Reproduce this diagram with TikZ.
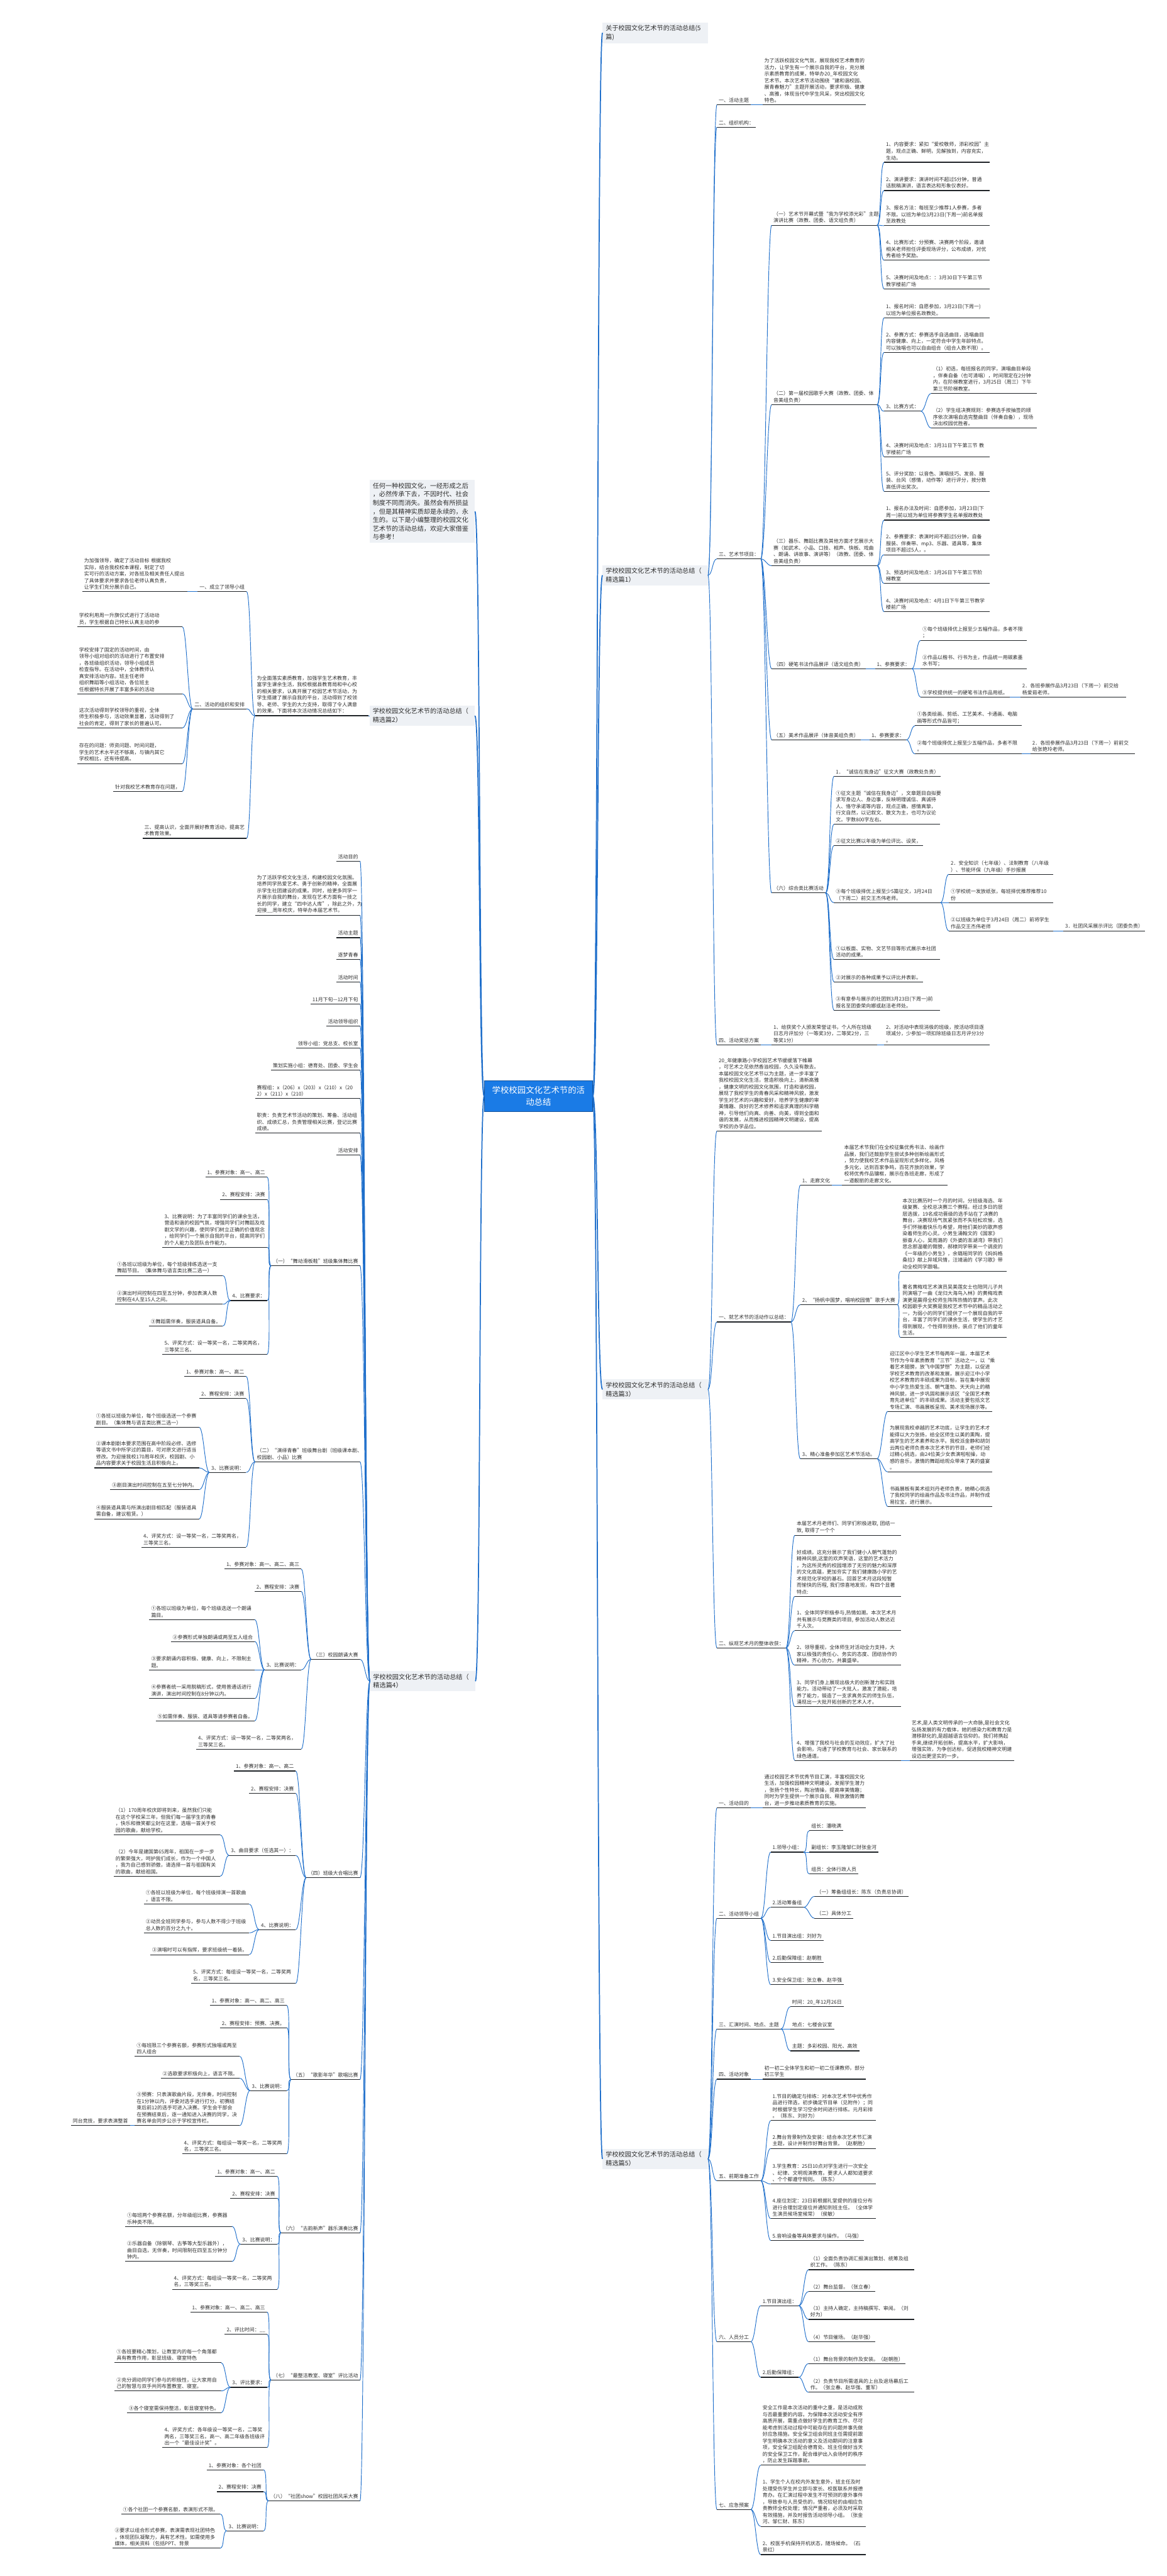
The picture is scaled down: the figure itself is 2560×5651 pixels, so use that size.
\documentclass[tikz,border=0pt]{standalone}
\usepackage{fontspec}
\setmainfont{Noto Sans CJK SC}

\definecolor{linkblue}{HTML}{1F6FCB}
\definecolor{ulblack}{HTML}{1E2226}
\definecolor{txtgray}{HTML}{2E2E2E}
\definecolor{boxgray}{HTML}{EEF1F5}
\definecolor{rootblue}{HTML}{1A7BE6}
\definecolor{rootedge}{HTML}{0E4F9A}

\newcommand{\leaffont}{\fontsize{11}{14.5}\selectfont}
\newcommand{\boxfont}{\fontsize{14}{19}\selectfont}
\newcommand{\rootfont}{\fontsize{18.5}{25}\selectfont}

\tikzset{
  uline/.style={draw=ulblack, line width=1.5pt},
  link/.style={draw=linkblue, line width=1.3pt},
  trunk/.style={draw=linkblue, line width=2.4pt},
  leaf/.style={anchor=south west, align=left, font=\leaffont, text=txtgray,
    inner xsep=4pt, inner ysep=4.5pt,
    append after command={(\tikzlastnode.south west) edge[uline] (\tikzlastnode.south east)}},
  lleaf/.style={leaf, anchor=south east},
  para/.style={text width=#1},
  topbox/.style={fill=boxgray, text=txtgray, font=\boxfont, align=left,
    text width=217pt, inner xsep=7pt, inner ysep=6pt},
  rootbox/.style={fill=rootblue, draw=rootedge, line width=1pt, text=white,
    font=\rootfont, align=center, minimum width=237pt, minimum height=67pt}
}

% 右侧连线 / 左侧连线
\newcommand{\rlinks}[2]{\foreach \kid in {#2}{\draw[link] (#1.south east) .. controls +(10,0) and +(-10,0) .. (\kid.south west);}}
\newcommand{\llinks}[2]{\foreach \kid in {#2}{\draw[link] (#1.south west) .. controls +(-10,0) and +(10,0) .. (\kid.south east);}}

\begin{document}
\begin{tikzpicture}[x=1pt, y=-1pt]
\useasboundingbox (0,0) rectangle (2560,5651);

% 中心主题
\node[rootbox] (root) at (1181.5,2404.5) {学校校园文化艺术节的活\\动总结};

% 一级分支
\node[topbox, anchor=west] (t0) at (1322,72) {关于校园文化艺术节的活动总结(5\\篇)};
\node[topbox, anchor=west] (b1) at (1322,1262) {学校校园文化艺术节的活动总结（\\精选篇1）};
\node[topbox, anchor=west] (b3) at (1322,3048) {学校校园文化艺术节的活动总结（\\精选篇3）};
\node[topbox, anchor=west] (b5) at (1322,4736) {学校校园文化艺术节的活动总结（\\精选篇5）};
\node[topbox, anchor=east, font=\fontsize{14}{18.75}\selectfont] (intro) at (1042,1122) {任何一种校园文化，一经形成之后\\，必然传承下去，不因时代、社会\\制度不同而消失。虽然会有所损益\\，但是其精神实质却是永续的，永\\生的。以下是小编整理的校园文化\\艺术节的活动总结，欢迎大家借鉴\\与参考！};
\node[topbox, anchor=east] (b2) at (1042,1570) {学校校园文化艺术节的活动总结（\\精选篇2）};
\node[topbox, anchor=east] (b4) at (1043,3688) {学校校园文化艺术节的活动总结（\\精选篇4）};

\foreach \kid in {t0,b1,b3,b5}{\draw[trunk] (root.east) .. controls +(12,0) and +(-12,0) .. (\kid.west);}
\foreach \kid in {intro,b2,b4}{\draw[trunk] (root.west) .. controls +(-12,0) and +(12,0) .. (\kid.east);}

% ---------------- 精选篇1 ----------------
\node[leaf] (p1a) at (1573,230) {一、活动主题};
\node[leaf, para=219] (p1a1) at (1673,230) {为了活跃校园文化气氛，展现我校艺术教育的\\活力，让学生有一个展示自我的平台，充分展\\示素质教育的成果，特举办20\_年校园文化\\艺术节。本次艺术节活动围绕“建和谐校园、\\展青春魅力”主题开展活动，要求积极、健康\\、高雅，体现当代中学生风采，突出校园文化\\特色。};
\node[leaf] (p1b) at (1573,279) {二、组织机构：};
\node[leaf] (p1c) at (1573,1226) {三、艺术节项目：};
\node[leaf] (p1d) at (1573,2292) {四、活动奖惩方案};
\node[leaf, para=223] (p1d1) at (1693,2292) {1、给获奖个人颁发荣誉证书，个人所在班级\\日志月评加分（一等奖3分，二等奖2分，三\\等奖1分）};
\node[leaf, para=223] (p1d2) at (1940,2292) {2、对活动中表现消极的班级，按活动项目逐\\项减分，少参加一项扣除班级日志月评分3分\\。};

\node[leaf, para=223] (c1) at (1693,494) {（一）艺术节开幕式暨“我为学校添光彩”主题\\演讲比赛（政教、团委、语文组负责）};
\node[leaf, para=223] (c1x1) at (1940,356) {1、内容要求：紧扣“爱校敬师，添彩校园”主\\题，观点正确、鲜明，见解独到，内容充实，\\生动。};
\node[leaf, para=223] (c1x2) at (1940,418) {2、演讲要求：演讲时间不超过5分钟，普通\\话脱稿演讲，语言表达和形象仪表好。};
\node[leaf, para=223] (c1x3) at (1940,495) {3、报名方法：每班至少推荐1人参赛，多者\\不限。以班为单位3月23日(下周一)前名单报\\至政教处};
\node[leaf, para=223] (c1x4) at (1940,571) {4、比赛形式：分预赛、决赛两个阶段，邀请\\相关老师担任评委现场评分，公布成绩，对优\\秀者给予奖励。};
\node[leaf, para=223] (c1x5) at (1940,634) {5、决赛时间及地点：：3月30日下午第三节\\教学楼前广场};

\node[leaf, para=223] (c2) at (1693,888) {（二）第一届校园歌手大赛（政教、团委、体\\音美组负责）};
\node[leaf, para=223] (c2x1) at (1940,697) {1、报名时间：自愿参加，3月23日(下周一)\\以班为单位报名政教处。};
\node[leaf, para=223] (c2x2) at (1940,773) {2、参赛方式：参赛选手自选曲目，选唱曲目\\内容健康、向上，一定符合中学生年龄特点。\\可以独唱也可以自由组合（组合人数不限）。};
\node[leaf] (c2x3) at (1940,902) {3、比赛方式：};
\node[leaf, para=224] (c2y1) at (2043,863) {（1）初选，每班报名的同学，演唱曲目单段\\，伴奏自备（也可清唱），时间限定在2分钟\\内，在阶梯教室进行，3月25日（周三）下午\\第三节阶梯教室。};
\node[leaf, para=224] (c2y2) at (2043,939) {（2）学生组决赛规则：参赛选手按抽签的顺\\序依次演唱自选完整曲目（伴奏自备），现场\\决出校园优胜者。};
\node[leaf, para=223] (c2x4) at (1940,1002) {4、决赛时间及地点：3月31日下午第三节~教\\学楼前广场};
\node[leaf, para=223] (c2x5) at (1940,1078) {5、评分奖励：以音色、演唱技巧、发音、服\\装、台风（感情，动作等）进行评分，按分数\\高低评出奖次。};

\node[leaf, para=223] (c3) at (1693,1241) {（三）器乐、舞蹈比赛及其他方面才艺展示大\\赛（如武术、小品、口技、相声、快板、戏曲\\、朗诵、讲故事、演讲等）（政教、团委、体\\音美组负责）};
\node[leaf, para=223] (c3x1) at (1940,1141) {1、报名办法及时间：自愿参加，3月23日(下\\周一)前以班为单位将参赛学生名单报政教处};
\node[leaf, para=223] (c3x2) at (1940,1217) {2、参赛要求：表演时间不超过5分钟，自备\\服装、伴奏带、mp3、乐器、道具等，集体\\项目不超过5人，。};
\node[leaf, para=223] (c3x3) at (1940,1280) {3、预选时间及地点：3月26日下午第三节阶\\梯教室};
\node[leaf, para=223] (c3x4) at (1940,1342) {4、决赛时间及地点：4月1日下午第三节教学\\楼前广场};

\node[leaf] (c4) at (1693,1467) {（四）硬笔书法作品展评（语文组负责）};
\node[leaf] (c4a) at (1920,1467) {1、参赛要求：};
\node[leaf, para=224] (c4b1) at (2020,1405) {①每个班级择优上报至少五幅作品，多者不限\\；};
\node[leaf, para=224] (c4b2) at (2020,1467) {②作品以楷书、行书为主，作品统一用碳素墨\\水书写；};
\node[leaf] (c4b3) at (2020,1529) {③学校提供统一的硬笔书法作品用纸。};
\node[leaf, para=223] (c4c) at (2239,1529) {2．各班参展作品3月23日（下周一）前交给\\杨爱茹老师。};

\node[leaf] (c5) at (1693,1623) {（五）美术作品展评（体音美组负责）};
\node[leaf] (c5a) at (1908,1623) {1、参赛要求：};
\node[leaf, para=225] (c5b1) at (2008,1592) {①各类绘画、剪纸、工艺美术、卡通画、电脑\\画等形式作品皆可；};
\node[leaf, para=225] (c5b2) at (2008,1654) {②每个班级择优上报至少五幅作品，多者不限\\。};
\node[leaf, para=221] (c5c) at (2261,1654) {2．各班参展作品3月23日（下周一）前前交\\给张艳玲老师。};

\node[leaf] (c6) at (1693,1959) {（六）综合类比赛活动};
\node[leaf] (c6x1) at (1830,1703) {1．“诚信在我身边”征文大赛（政教处负责）};
\node[leaf, para=224] (c6x2) at (1830,1808) {①征文主题“诚信在我身边”，文章题目自拟要\\求写身边人、身边事，反映明理诚信、真诚待\\人、恪守承诺等内容，观点正确，感情真挚，\\行文自然，以记叙文、散文为主，也可为议论\\文。字数800字左右。};
\node[leaf] (c6x3) at (1830,1855) {②征文比赛以年级为单位评比、设奖，};
\node[leaf, para=225] (c6x4) at (1830,1980) {③每个班级择优上报至少5篇征文，3月24日\\（下周二）前交王杰伟老师。};
\node[leaf, para=220] (c6y1) at (2082,1918) {2．安全知识（七年级）、法制教育（八年级\\）、节能环保（九年级）手抄报展};
\node[leaf, para=220] (c6y2) at (2082,1980) {①学校统一发放纸张，每班择优推荐推荐10\\份};
\node[leaf, para=220] (c6y3) at (2082,2042) {②以班级为单位于3月24日（周二）前将学生\\作品交王杰伟老师};
\node[leaf] (c6z) at (2333,2042) {3．社团风采展示评比（团委负责）};
\node[leaf, para=224] (c6x5) at (1830,2105) {①以板面、实物、文艺节目等形式展示本社团\\活动的成果。};
\node[leaf] (c6x6) at (1830,2154) {②对展示的各种成果予以评比并表彰。};
\node[leaf, para=224] (c6x7) at (1830,2216) {③有意参与展示的社团到3月23日(下周一)前\\报名至团委荣向娜或赵洁老师处。};

\foreach \kid in {p1a,p1b,p1c,p1d}{\draw[link] (b1.east) .. controls +(10,0) and +(-10,0) .. (\kid.south west);}
\rlinks{p1a}{p1a1}
\rlinks{p1d}{p1d1}
\rlinks{p1d1}{p1d2}
\rlinks{p1c}{c1,c2,c3,c4,c5,c6}
\rlinks{c1}{c1x1,c1x2,c1x3,c1x4,c1x5}
\rlinks{c2}{c2x1,c2x2,c2x3,c2x4,c2x5}
\rlinks{c2x3}{c2y1,c2y2}
\rlinks{c3}{c3x1,c3x2,c3x3,c3x4}
\rlinks{c4}{c4a}
\rlinks{c4a}{c4b1,c4b2,c4b3}
\rlinks{c4b3}{c4c}
\rlinks{c5}{c5a}
\rlinks{c5a}{c5b1,c5b2}
\rlinks{c5b2}{c5c}
\rlinks{c6}{c6x1,c6x2,c6x3,c6x4,c6x5,c6x6,c6x7}
\rlinks{c6x4}{c6y1,c6y2,c6y3}
\rlinks{c6y3}{c6z}

% ---------------- 精选篇3 ----------------
\node[leaf, para=222] (q0) at (1573,2481) {20\_年健康路小学校园艺术节缓缓落下帷幕\\，可艺术之花依然香溢校园，久久没有散去。\\本届校园文化艺术节以为主题，进一步丰富了\\我校校园文化生活，营造积极向上，清新高雅\\，健康文明的校园文化氛围，打造和谐校园，\\展现了我校学生的青春风采和精神风貌，激发\\学生对艺术的兴趣和爱好，培养学生健康的审\\美情趣、良好的艺术修养和追求真理的科学精\\神，引导他们向真、向善、向美，得到全面和\\谐的发展，从而推进校园精神文明建设，提高\\学校的办学品位。};
\node[leaf] (q1) at (1573,2900) {一、就艺术节的活动作以总结：};
\node[leaf] (q1a) at (1756,2600) {1、走廊文化};
\node[leaf, para=223] (q1a1) at (1848,2600) {本届艺术节我们在全校征集优秀书法、绘画作\\品展，我们还鼓励学生尝试多种创新绘画形式\\，努力使我校艺术作品呈现形式多样化，风格\\多元化，达到百家争鸣，百花齐放的效果，学\\校将优秀作品镶框，展示在各班走廊，形成了\\一道靓丽的走廊文化。};
\node[leaf] (q1b) at (1756,2862) {2、“扬帆中国梦，唱响校园情”歌手大赛};
\node[leaf, para=225] (q1b1) at (1976,2789) {本次比赛历时一个月的时间，分班级海选、年\\级复赛、全校总决赛三个赛程。经过多日的层\\层选拔，19名成功晋级的选手站在了决赛的\\舞台，决赛现场气氛紧张而不失轻松欢愉，选\\手们怀揣着快乐与希望，用他们美妙的歌声感\\染着师生的心灵。小男生涌翰文的《国家》\\振奋人心，吴雨潞的《外婆的澎湖湾》带我们\\思念那温暖的臂膀，郝棣同学带来一个调皮的\\《一年级的小男生》，余璐瑶同学的《妈妈格\\桑拉》献上异域风情，汪靖涵的《学习歌》带\\动全校同学跟唱。};
\node[leaf, para=225] (q1b2) at (1976,2934) {著名黄梅戏艺术演员吴美莲女士也陪同儿子共\\同演唱了一曲《龙归大海鸟入林》的黄梅戏表\\演更是赢得全校师生阵阵热情的掌声。此次\\校园歌手大奖赛是我校艺术节中的精品活动之\\一，为弱小的同学们提供了一个展现自我的平\\台，丰富了同学们的课余生活，使学生的才艺\\得到展现，个性得到张扬，装点了他们的童年\\生活。};
\node[leaf] (q1c) at (1756,3200) {3、精心准备参加区艺术节活动。};
\node[leaf, para=221] (q1c1) at (1948,3096) {迎江区中小学生艺术节每两年一届，本届艺术\\节作为今年素质教育“三节”活动之一，以“乘\\着艺术翅膀，放飞中国梦想”为主题，以促进\\学校艺术教育的改革和发展，展示迎江中小学\\校艺术教育的丰硕成果为目标，旨在集中展现\\中小学生热爱生活、朝气蓬勃、天天向上的精\\神风貌，进一步巩固和展示该区“全国艺术教\\育先进单位”的丰硕成果。活动主要包括文艺\\专场汇演、书画展板呈现、美术现场展示等。};
\node[leaf, para=221] (q1c2) at (1948,3229) {为展现我校卓越的艺术功底，让学生的艺术才\\能得以大力张扬，给全区师生以美的熏陶，提\\高学生的艺术素养和水平。我校派金静和胡剑\\云两位老师负责本次艺术节的节目，老师们经\\过精心挑选，由24位美少女表演啦啦操，动\\感的音乐，激情的舞蹈给观众带来了美的盛宴\\。};
\node[leaf, para=221] (q1c3) at (1948,3305) {书画展板有美术组刘丹老师负责，她精心挑选\\了我校同学的绘画作品及书法作品，并制作成\\易拉宝，进行展示。};
\node[leaf] (q2) at (1573,3615) {二、纵观艺术月的整体收获：};
\node[leaf, para=224] (q2x1) at (1744,3368) {本届艺术月老师们、同学们积极进取,~团结一\\致,~取得了一个个};
\node[leaf, para=224] (q2x2) at (1744,3502) {好成绩。这充分展示了我们健小人朝气蓬勃的\\精神风貌,这里的欢声笑语，这里的艺术活力\\，为这所灵秀的校园增添了无穷的魅力和深厚\\的文化底蕴，更加夯实了我们健康路小学的艺\\术规范化学校的基石。回首艺术月这段短暂\\而愉快的历程,~我们惊喜地发现，有四个显著\\特点:};
\node[leaf, para=224] (q2x3) at (1744,3577) {1、全体同学积极参与,热情如潮。本次艺术月\\共有展示与竞赛类的项目,~参加活动人数达近\\千人次。};
\node[leaf, para=224] (q2x4) at (1744,3653) {2、领导重视，全体师生对活动全力支持，大\\家以极强的责任心、务实的态度、团结协作的\\精神，齐心协力，共襄盛举。};
\node[leaf, para=224] (q2x5) at (1744,3744) {3、同学们身上展现出极大的创新潜力和实践\\能力。活动带动了一大批人，激发了潜能，培\\养了能力，锻造了一支求真务实的师生队伍，\\涌现出一大批开拓创新的艺术人才。};
\node[leaf, para=224] (q2x6) at (1744,3862) {4、增强了我校与社会的互动效应，扩大了社\\会影响，沟通了学校教育与社会、家长联系的\\绿色通道。};
\node[leaf, para=221] (q2y) at (1996,3862) {艺术,是人类文明传承的一大命脉,是社会文化\\弘扬发展的有力载体，她的感染力和教育力是\\潜移默化的,是超越语言信仰的。我们将携起\\手来,继续开拓创新，提高水平，扩大影响，\\增强实效，为争创达标，促进我校精神文明建\\设迈出更坚实的一步。};

\foreach \kid in {q0,q1,q2}{\draw[link] (b3.east) .. controls +(10,0) and +(-10,0) .. (\kid.south west);}
\rlinks{q1}{q1a,q1b,q1c}
\rlinks{q1a}{q1a1}
\rlinks{q1b}{q1b1,q1b2}
\rlinks{q1c}{q1c1,q1c2,q1c3}
\rlinks{q2}{q2x1,q2x2,q2x3,q2x4,q2x5,q2x6}
\rlinks{q2x6}{q2y}

% ---------------- 精选篇5 ----------------
\node[leaf] (r1) at (1573,3966) {一、活动目的};
\node[leaf, para=219] (r1a) at (1673,3966) {通过校园艺术节优秀节目汇演，丰富校园文化\\生活，加强校园精神文明建设，发掘学生潜力\\，张扬个性特长，陶冶情操，提高审美情趣；\\同时为学生提供一个展示自我、释放激情的舞\\台，进一步推动素质教育的实施。};
\node[leaf] (r2) at (1573,4208) {二、活动领导小组};
\node[leaf] (r2a) at (1691,4063) {1.领导小组：};
\node[leaf] (r2a1) at (1776,4016) {组长：潘晓满};
\node[leaf] (r2a2) at (1776,4063) {副组长：李玉隆邹仁财张金河};
\node[leaf] (r2a3) at (1776,4111) {组员：全体行政人员};
\node[leaf] (r2b) at (1691,4184) {2.活动筹备组};
\node[leaf] (r2b1) at (1787,4160) {（一）筹备组组长：陈东（负责总协调）};
\node[leaf] (r2b2) at (1787,4208) {（二）具体分工};
\node[leaf] (r2c) at (1691,4257) {1.节目演出组：刘好为};
\node[leaf] (r2d) at (1691,4305) {2.后勤保障组：赵朝胜};
\node[leaf] (r2e) at (1691,4354) {3.安全保卫组：张立春、赵华强};
\node[leaf] (r3) at (1573,4451) {三、汇演时间、地点、主题};
\node[leaf] (r3a) at (1734,4402) {时间：20\_年12月26日};
\node[leaf] (r3b) at (1734,4451) {地点：七楼会议室};
\node[leaf] (r3c) at (1734,4499) {主题：多彩校园、阳光、高效};
\node[leaf] (r4) at (1573,4561) {四、活动对象};
\node[leaf, para=219] (r4a) at (1673,4561) {初一初二全体学生和初一初二任课教师，部分\\初三学生};
\node[leaf] (r5) at (1573,4784) {五、前期准备工作};
\node[leaf, para=223] (r5a) at (1691,4652) {1.节目的确定与排练：对本次艺术节中优秀作\\品进行筛选，初步确定节目单（见附件）；同\\时根据学生学习空余时间进行排练。元月彩排\\。（陈东、刘好为）};
\node[leaf, para=223] (r5b) at (1691,4713) {2.舞台背景制作及安装：结合本次艺术节汇演\\主题，设计并制作好舞台背景。（赵朝胜）};
\node[leaf, para=223] (r5c) at (1691,4791) {3.学生教育：25日10点对学生进行一次安全\\、纪律、文明观演教育。要求人人都知道要求\\、个个都遵守规则。（陈东）};
\node[leaf, para=223] (r5d) at (1691,4867) {4.座位划定：23日前根据礼堂提供的座位分布\\进行合理划定座位并通知到班主任。（全体学\\生演员候场室候常）（侯敏）};
\node[leaf] (r5e) at (1691,4915) {5.音响设备等具体要求与操作。（马强）};
\node[leaf] (r6) at (1573,5137) {六、人员分工};
\node[leaf] (r6a) at (1669,5058) {1.节目演出组：};
\node[leaf, para=223] (r6a1) at (1774,4979) {（1）全面负责协调汇报演出策划、统筹及组\\织工作。（陈东）};
\node[leaf] (r6a2) at (1774,5027) {（2）舞台监督。（张立春）};
\node[leaf, para=223] (r6a3) at (1774,5088) {（3）主持人确定，主持稿撰写、审阅。（刘\\好为）};
\node[leaf] (r6a4) at (1774,5137) {（4）节目催场。（赵华强）};
\node[leaf] (r6b) at (1669,5215) {2.后勤保障组：};
\node[leaf] (r6b1) at (1774,5185) {（1）舞台背景的制作及安装。（赵朝胜）};
\node[leaf, para=223] (r6b2) at (1774,5248) {（2）负责节目所需道具的上台及退场幕后工\\作。（张立春、赵华强、董军）};
\node[leaf] (r7) at (1573,5505) {七、应急预案};
\node[leaf, para=223] (r7a) at (1669,5408) {安全工作是本次活动的重中之重，是活动成败\\与否最重要的内容。为保障本次活动安全有序\\高质开展，需重点做好学生的教育工作、尽可\\能考虑到活动过程中可能存在的问题并事先做\\好应急措施。安全保卫组会同班主任需提前跟\\学生明确本次活动的意义及活动期间的注意事\\项，安全保卫组配合德育处、班主任做好当天\\的安全保卫工作，配合维护出入会场时的秩序\\，防止发生踩踏事故。};
\node[leaf, para=223] (r7b) at (1669,5542) {1、学生个人在校内外发生意外，班主任及时\\处理受伤学生并立即与家长、校医联系并报德\\育办。在汇演过程中发生不可预测的意外事件\\，导致参与人员受伤的，情况较轻的由相应负\\责教师全权处理；情况严重者，必须及时采取\\有效措施，并及时报告活动领导小组。（张金\\河、邹仁财、陈东）};
\node[leaf, para=223] (r7c) at (1669,5604) {2、校医手机保持开机状态，随场候命。（石\\景红）};

\foreach \kid in {r1,r2,r3,r4,r5,r6,r7}{\draw[link] (b5.east) .. controls +(10,0) and +(-10,0) .. (\kid.south west);}
\rlinks{r1}{r1a}
\rlinks{r2}{r2a,r2b,r2c,r2d,r2e}
\rlinks{r2a}{r2a1,r2a2,r2a3}
\rlinks{r2b}{r2b1,r2b2}
\rlinks{r3}{r3a,r3b,r3c}
\rlinks{r4}{r4a}
\rlinks{r5}{r5a,r5b,r5c,r5d,r5e}
\rlinks{r6}{r6a,r6b}
\rlinks{r6a}{r6a1,r6a2,r6a3,r6a4}
\rlinks{r6b}{r6b1,r6b2}
\rlinks{r7}{r7a,r7b,r7c}

% ---------------- 精选篇2 ----------------
\node[lleaf, para=241] (v0) at (809,1570) {为全面落实素质教育，加强学生艺术教育，丰\\富学生课余生活，我校根据县教育局和中心校\\的相关要求，认真开展了校园艺术节活动，为\\学生搭建了展示自我的平台，活动得到了校领\\导、老师、学生的大力支持，取得了令人满意\\的效果。下面将本次活动情况总结如下：};
\node[lleaf] (v1) at (541,1298) {一、成立了领导小组};
\node[lleaf] (v2) at (541,1555) {二、活动的组织和安排};
\node[lleaf, para=220] (v3) at (541,1839) {三、提高认识，全面开展好教育活动，提高艺\\术教育效果。};
\node[lleaf, para=222] (v1a) at (411,1298) {为加强领导，确定了活动目标~根据我校\\实际，结合我校校本课程，制定了切\\实可行的活动方案，对各班及相关责任人提出\\了具体要求并要求各位老师认真负责，\\让学生们充分展示自己。};
\node[lleaf, para=222] (v2a) at (400,1375) {学校利用周一升旗仪式进行了活动动\\员，学生根据自己特长认真主动的参};
\node[lleaf, para=222] (v2b) at (400,1522) {学校安排了固定的活动时间，由\\领导小组对组织的活动进行了布置安排\\，各班级组织活动，领导小组成员\\检查指导。在活动中，全体教师认\\真安排活动内容。班主任老师\\组织舞蹈等小组活动，各位班主\\任根据特长开展了丰富多彩的活动};
\node[lleaf, para=222] (v2c) at (400,1597) {这次活动得到学校领导的重视，全体\\师生积极参与，活动效果显著，活动得到了\\社会的肯定，得到了家长的普遍认可。};
\node[lleaf, para=222] (v2d) at (400,1675) {存在的问题：师资问题、时间问题，\\学生的艺术水平还不够高，与镇内其它\\学校相比，还有待提高。};
\node[lleaf] (v2e) at (400,1736) {针对我校艺术教育存在问题，};

\draw[link] (b2.west) -- (v0.south east);
\llinks{v0}{v1,v2,v3}
\llinks{v1}{v1a}
\llinks{v2}{v2a,v2b,v2c,v2d,v2e}

% ---------------- 精选篇4 ----------------
\node[lleaf] (s1) at (790,1889) {活动目的};
\node[lleaf, para=222] (s2) at (790,2008) {为了活跃学校文化生活，构建校园文化氛围。\\培养同学热爱艺术、勇于创新的精神，全面展\\示学生社团建设的成果。同时，给更多同学一\\片展示自我的舞台，发现在艺术方面有一技之\\长的同学，建立“四中达人库”，除此之外，为\\迎接\_\_周年校庆，特举办本届艺术节。};
\node[lleaf] (s3) at (790,2057) {活动主题};
\node[lleaf] (s4) at (790,2105) {逐梦青春};
\node[lleaf] (s5) at (790,2154) {活动时间};
\node[lleaf] (s6) at (790,2202) {11月下旬—12月下旬};
\node[lleaf] (s7) at (790,2251) {活动领导组织};
\node[lleaf] (s8) at (790,2299) {领导小组：党总支、校长室};
\node[lleaf] (s9) at (790,2348) {策划实施小组：德育处、团委、学生会};
\node[lleaf, para=222] (s10) at (790,2410) {赛程组：x（206）x（203）x（210）x（20\\2）x（211）x（210）};
\node[lleaf, para=222] (s11) at (790,2486) {职责：负责艺术节活动的策划、筹备、活动组\\织、成绩汇总，负责管理相关比赛，登记比赛\\成绩。};
\node[lleaf] (s12) at (790,2534) {活动安排};

\node[lleaf] (u1) at (790,2777) {（一）“舞动滑板鞋”班级集体舞比赛};
\node[lleaf] (u1a) at (586,2582) {1、参赛对象：高一、高二};
\node[lleaf] (u1b) at (586,2631) {2、赛程安排：决赛};
\node[lleaf, para=221] (u1c) at (586,2736) {3、比赛说明：为了丰富同学们的课余生活，\\营造和谐的校园气氛，增强同学们对舞蹈及戏\\剧文学的兴趣，使同学们树立正确的价值观念\\，给同学们一个展示自我的平台，提高同学们\\的个人能力及团队合作能力。};
\node[lleaf] (u1d) at (586,2853) {4、比赛要求：};
\node[lleaf, para=228] (u1d1) at (489,2798) {①各班以班级为单位，每个班级排练选送一支\\舞蹈节目。（集体舞与语言类比赛二选一）};
\node[lleaf, para=228] (u1d2) at (489,2861) {②演出时间控制在四至五分钟，参加表演人数\\控制在4人至15人之间。};
\node[lleaf] (u1d3) at (489,2909) {③舞蹈需伴奏，服装道具自备。};
\node[lleaf, para=221] (u1e) at (586,2971) {5、评奖方式：设一等奖一名，二等奖两名，\\三等奖三名。};

\node[lleaf, para=222] (u2) at (790,3207) {（二）“演绎青春”班级舞台剧（班级课本剧、\\校园剧、小品）比赛};
\node[lleaf] (u2a) at (540,3019) {1、参赛对象：高一、高二};
\node[lleaf] (u2b) at (540,3068) {2、赛程安排：决赛};
\node[lleaf] (u2c) at (540,3230) {3、比赛说明：};
\node[lleaf, para=222] (u2c1) at (437,3131) {①各班以班级为单位，每个班级选送一个参赛\\剧目。（集体舞与语言类比赛二选一）};
\node[lleaf, para=222] (u2c2) at (437,3220) {②课本剧剧本要求范围在高中阶段必修、选修\\等语文书中所学过的篇目，可对原文进行适当\\修改。为迎接我校170周年校庆，校园剧、小\\品内容要求关于校园生活且积极向上。};
\node[lleaf] (u2c3) at (437,3268) {③剧目演出时间控制在五至七分钟内。};
\node[lleaf, para=222] (u2c4) at (437,3332) {④服装道具需与所演出剧目相匹配（服装道具\\需自备，建议租赁。）};
\node[lleaf, para=221] (u2d) at (540,3394) {4、评奖方式：设一等奖一名，二等奖两名，\\三等奖三名。};

\node[lleaf] (u3) at (790,3640) {（三）校园朗诵大赛};
\node[lleaf] (u3a) at (661,3442) {1、参赛对象：高一、高二、高三};
\node[lleaf] (u3b) at (661,3491) {2、赛程安排：决赛};
\node[lleaf] (u3c) at (661,3663) {3、比赛说明：};
\node[lleaf, para=223] (u3c1) at (559,3553) {①各班以班级为单位，每个班级选送一个朗诵\\篇目。};
\node[lleaf] (u3c2) at (559,3601) {②参赛形式单独朗诵或两至五人组合};
\node[lleaf, para=223] (u3c3) at (559,3663) {③要求朗诵内容积极、健康、向上，不限制主\\题。};
\node[lleaf, para=223] (u3c4) at (559,3726) {④参赛者统一采用脱稿形式，使用普通话进行\\演讲，演出时间控制在8分钟以内。};
\node[lleaf] (u3c5) at (559,3775) {⑤如需伴奏、服装、道具等请参赛者自备。};
\node[lleaf, para=222] (u3d) at (661,3837) {4、评奖方式：设一等奖一名，二等奖两名，\\三等奖三名。};

\node[lleaf] (u4) at (790,4119) {（四）班级大合唱比赛};
\node[lleaf] (u4a) at (649,3885) {1、参赛对象：高一、高二};
\node[lleaf] (u4b) at (649,3934) {2、赛程安排：决赛};
\node[lleaf] (u4c) at (649,4070) {3、曲目要求（任选其一）：};
\node[lleaf, para=225] (u4c1) at (483,4025) {（1）170周年校庆即将到来，虽然我们只能\\在这个学校呆三年，但我们每一届学生的青春\\，快乐和微笑都尘封在这里，选唱一首关于校\\园的歌曲，献给学校。};
\node[lleaf, para=225] (u4c2) at (483,4116) {（2）今年是建国第65周年，祖国在一步一步\\的繁荣强大，呵护我们成长，作为一个中国人\\，我为自己感到骄傲，请选择一首与祖国有关\\的歌曲，献给祖国。};
\node[lleaf] (u4d) at (649,4233) {4、比赛说明：};
\node[lleaf, para=223] (u4d1) at (547,4177) {①各班以班级为单位，每个班级排演一首歌曲\\，语言不限。};
\node[lleaf, para=223] (u4d2) at (547,4240) {②动员全班同学参与，参与人数不得少于班级\\总人数的百分之九十。};
\node[lleaf] (u4d3) at (547,4288) {③演唱时可以有指挥，要求班级统一着装。};
\node[lleaf, para=221] (u4e) at (649,4351) {5、评奖方式：每组设一等奖一名，二等奖两\\名，三等奖三名。};

\node[lleaf] (u5) at (790,4562) {（五）“歌影年华”歌唱比赛};
\node[lleaf] (u5a) at (629,4399) {1、参赛对象：高一、高二、高三};
\node[lleaf] (u5b) at (629,4448) {2、赛程安排：预赛、决赛。};
\node[lleaf] (u5c) at (629,4586) {3、比赛说明：};
\node[lleaf, para=222] (u5c1) at (526,4511) {①每班限三个参赛名额，参赛形式独唱或两至\\四人组合};
\node[lleaf] (u5c2) at (526,4559) {②选歌要求积极向上，语言不限。};
\node[lleaf, para=222] (u5c3) at (526,4663) {③预赛：只表演歌曲片段，无伴奏，时间控制\\在1分钟以内，评委对选手进行打分。初赛结\\束后前12的选手可进入决赛。学生会干部会\\在预赛结束后，逐一通知进入决赛的同学，决\\赛名单会同步公示于学校宣传栏。};
\node[lleaf] (u5c3a) at (285,4663) {同台竞技，要求表演整首};
\node[lleaf, para=221] (u5e) at (629,4725) {4、评奖方式：每组设一等奖一名，二等奖两\\名，三等奖三名。};

\node[lleaf] (u6) at (790,4898) {（六）“古韵新声”器乐演奏比赛};
\node[lleaf] (u6a) at (608,4774) {1、参赛对象：高一、高二};
\node[lleaf] (u6b) at (608,4822) {2、赛程安排：决赛};
\node[lleaf] (u6c) at (608,4923) {3、比赛说明：};
\node[lleaf, para=226] (u6c1) at (509,4884) {①每班两个参赛名额，分年级组比赛，参赛器\\乐种类不限。};
\node[lleaf, para=226] (u6c2) at (509,4961) {②乐器自备（除钢琴、古筝等大型乐器外），\\曲目自选，无伴奏，时间限制在四至五分钟分\\钟内。};
\node[lleaf, para=222] (u6d) at (608,5022) {4、评奖方式：每组设一等奖一名，二等奖两\\名，三等奖三名。};

\node[lleaf] (u7) at (790,5221) {（七）“最整洁教室、寝室”评比活动};
\node[lleaf] (u7a) at (586,5072) {1、参赛对象：高一、高二、高三};
\node[lleaf] (u7b) at (586,5121) {2、评比时间：\_\_};
\node[lleaf] (u7c) at (586,5237) {3、评比要求：};
\node[lleaf, para=225] (u7c1) at (485,5183) {①各班要精心策划，让教室内的每一个角落都\\具有教育作用，彰显班级、寝室特色};
\node[lleaf, para=225] (u7c2) at (485,5245) {②充分调动同学们参与的积极性，让大家用自\\己的智慧与双手共同布置教室、寝室。};
\node[lleaf] (u7c3) at (485,5293) {③各个寝室需保持整洁，彰显寝室特色。};
\node[lleaf, para=221] (u7d) at (586,5369) {4、评奖方式：各年级设一等奖一名，二等奖\\两名，三等奖三名。高一、高二年级各班级评\\出一个“最佳设计奖”。};

\node[lleaf] (u8) at (790,5486) {（八）“社团show”校园社团风采大赛};
\node[lleaf] (u8a) at (578,5418) {1、参赛对象：各个社团};
\node[lleaf] (u8b) at (578,5466) {2、赛程安排：决赛};
\node[lleaf] (u8c) at (578,5552) {3、比赛说明：};
\node[lleaf] (u8c1) at (483,5515) {①各个社团一个参赛名额，表演形式不限。};
\node[lleaf, para=227] (u8c2) at (483,5590) {②要求以组合形式参赛，表演需表现社团特色\\，体现团队凝聚力，具有艺术性。如需使用多\\媒体，相关资料（包括PPT、背景};

\foreach \kid in {s1,s2,s3,s4,s5,s6,s7,s8,s9,s10,s11,s12,u1,u2,u3,u4,u5,u6,u7,u8}{\draw[link] (b4.west) .. controls +(-10,0) and +(10,0) .. (\kid.south east);}
\llinks{u1}{u1a,u1b,u1c,u1d,u1e}
\llinks{u1d}{u1d1,u1d2,u1d3}
\llinks{u2}{u2a,u2b,u2c,u2d}
\llinks{u2c}{u2c1,u2c2,u2c3,u2c4}
\llinks{u3}{u3a,u3b,u3c,u3d}
\llinks{u3c}{u3c1,u3c2,u3c3,u3c4,u3c5}
\llinks{u4}{u4a,u4b,u4c,u4d,u4e}
\llinks{u4c}{u4c1,u4c2}
\llinks{u4d}{u4d1,u4d2,u4d3}
\llinks{u5}{u5a,u5b,u5c,u5e}
\llinks{u5c}{u5c1,u5c2,u5c3}
\llinks{u5c3}{u5c3a}
\llinks{u6}{u6a,u6b,u6c,u6d}
\llinks{u6c}{u6c1,u6c2}
\llinks{u7}{u7a,u7b,u7c,u7d}
\llinks{u7c}{u7c1,u7c2,u7c3}
\llinks{u8}{u8a,u8b,u8c}
\llinks{u8c}{u8c1,u8c2}

\end{tikzpicture}
\end{document}
